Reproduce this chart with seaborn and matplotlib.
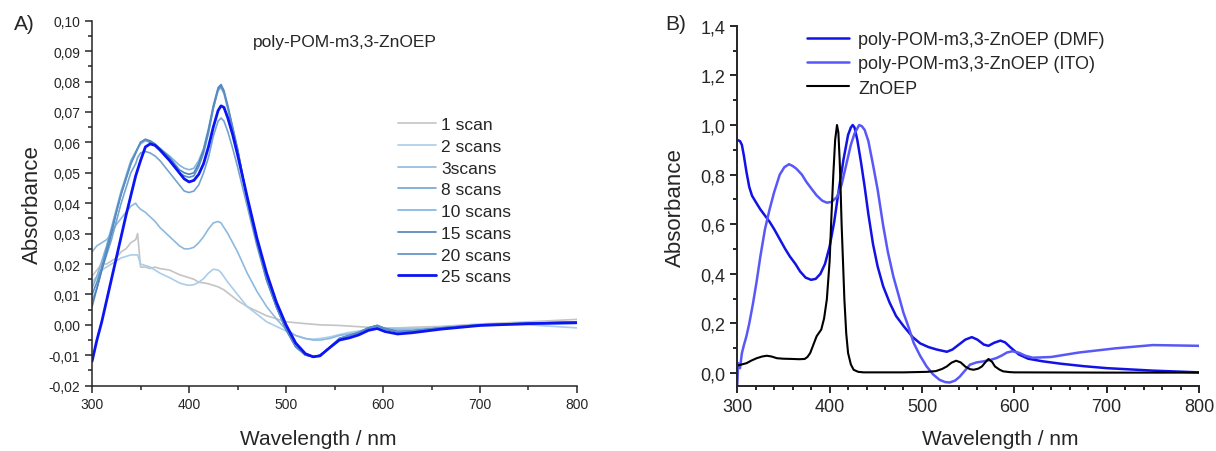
import matplotlib
matplotlib.use("Agg")
import matplotlib.pyplot as plt
import seaborn as sns
from matplotlib.ticker import MultipleLocator, FuncFormatter

# panel A - spectra after repeated scans
wl_a = [300, 305, 310, 315, 320, 325, 330, 335, 340, 345,
        347, 350, 355, 360, 365, 370, 380, 390, 395, 400,
        405, 410, 415, 420, 425, 430, 433, 436, 440, 445,
        450, 460, 470, 480, 490, 500, 510, 520, 528, 535,
        545, 555, 565, 575, 585, 594, 602, 615, 630, 660,
        700, 750, 800]
scan1 = [0.016, 0.018, 0.020, 0.020, 0.021, 0.022, 0.024, 0.025, 0.027, 0.028,
         0.030, 0.019, 0.019, 0.0185, 0.019, 0.0185, 0.018, 0.0165, 0.016, 0.0155,
         0.015, 0.014, 0.0138, 0.0135, 0.013, 0.0125, 0.012, 0.0115, 0.0105, 0.0093,
         0.008, 0.006, 0.0045, 0.003, 0.002, 0.001, 0.0007, 0.0004, 0.0002, 0.0,
         -0.0001, -0.0002, -0.0004, -0.0006, -0.0008, -0.001, -0.001, -0.001, -0.0008, -0.0005,
         0.0003, 0.001, 0.0018]
scan2 = [0.014, 0.016, 0.018, 0.019, 0.020, 0.021, 0.022, 0.0225, 0.023, 0.023,
         0.023, 0.020, 0.0195, 0.019, 0.018, 0.017, 0.0155, 0.0138, 0.0133, 0.013,
         0.0132, 0.014, 0.0152, 0.017, 0.0183, 0.018, 0.0172, 0.0158, 0.014, 0.012,
         0.010, 0.006, 0.0035, 0.001, -0.0005, -0.002, -0.0035, -0.0045, -0.0047, -0.0045,
         -0.004, -0.0032, -0.0025, -0.002, -0.0015, -0.001, -0.0012, -0.0012, -0.0012, -0.0008,
         0.0, 0.0, -0.001]
scan3 = [0.024, 0.026, 0.027, 0.028, 0.030, 0.033, 0.035, 0.037, 0.039, 0.040,
         0.039, 0.038, 0.037, 0.0355, 0.034, 0.032, 0.029, 0.026, 0.025, 0.025,
         0.0255, 0.027, 0.029, 0.0315, 0.0335, 0.034, 0.0335, 0.032, 0.030, 0.027,
         0.024, 0.017, 0.011, 0.006, 0.002, -0.0015, -0.0035, -0.0045, -0.005, -0.005,
         -0.0045, -0.0035, -0.003, -0.0025, -0.0012, -0.0005, -0.0012, -0.0015, -0.0015, -0.001,
         0.0, 0.0003, 0.0005]
scan8 = [0.008, 0.012, 0.018, 0.023, 0.028, 0.034, 0.040, 0.045, 0.050, 0.053,
         0.055, 0.0565, 0.057, 0.0565, 0.0555, 0.054, 0.050, 0.046, 0.044, 0.0435,
         0.044, 0.046, 0.050, 0.055, 0.062, 0.067, 0.068, 0.067, 0.0635, 0.058,
         0.052, 0.039, 0.026, 0.0145, 0.006, -0.0015, -0.0072, -0.0099, -0.0105, -0.0100,
         -0.0075, -0.0045, -0.0035, -0.0025, -0.001, -0.0003, -0.0015, -0.0022, -0.002, -0.001,
         0.0, 0.0005, 0.0008]
scan10 = [0.012, 0.016, 0.021, 0.026, 0.032, 0.038, 0.044, 0.049, 0.054, 0.057,
          0.058, 0.0595, 0.0605, 0.060, 0.059, 0.058, 0.0555, 0.0525, 0.0515, 0.051,
          0.0515, 0.054, 0.058, 0.0645, 0.0715, 0.077, 0.078, 0.076, 0.071, 0.064,
          0.0575, 0.0415, 0.027, 0.015, 0.006, -0.0015, -0.0072, -0.0099, -0.0105, -0.0100,
          -0.0075, -0.0045, -0.0035, -0.0025, -0.001, -0.0002, -0.0012, -0.0022, -0.002, -0.001,
          0.0, 0.0005, 0.001]
scan15 = [0.006, 0.012, 0.018, 0.024, 0.030, 0.037, 0.043, 0.048, 0.053, 0.0565,
          0.058, 0.060, 0.061, 0.0605, 0.0595, 0.058, 0.055, 0.051, 0.050, 0.0495,
          0.050, 0.053, 0.0575, 0.064, 0.072, 0.078, 0.079, 0.077, 0.072, 0.065,
          0.058, 0.041, 0.027, 0.015, 0.006, -0.0015, -0.0072, -0.0099, -0.0105, -0.0100,
          -0.0075, -0.0045, -0.0035, -0.0025, -0.001, -0.0002, -0.0012, -0.0022, -0.002, -0.001,
          0.0, 0.0005, 0.001]
scan20 = [0.010, 0.014, 0.019, 0.025, 0.031, 0.037, 0.043, 0.048, 0.053, 0.0565,
          0.058, 0.060, 0.061, 0.060, 0.059, 0.0575, 0.0545, 0.050, 0.049, 0.0485,
          0.049, 0.052, 0.0565, 0.063, 0.071, 0.0775, 0.0785, 0.0765, 0.0715, 0.0645,
          0.0575, 0.0415, 0.027, 0.015, 0.006, -0.0015, -0.0072, -0.0099, -0.0105, -0.0100,
          -0.0075, -0.0045, -0.0035, -0.0025, -0.001, -0.0002, -0.0012, -0.0022, -0.002, -0.001,
          0.0, 0.0005, 0.001]
scan25 = [-0.012, -0.005, 0.001, 0.008, 0.015, 0.022, 0.029, 0.036, 0.0425, 0.049,
          0.051, 0.054, 0.0585, 0.0595, 0.059, 0.0575, 0.054, 0.050, 0.048, 0.047,
          0.0475, 0.0495, 0.053, 0.0585, 0.065, 0.0705, 0.072, 0.0715, 0.068, 0.0625,
          0.056, 0.042, 0.0285, 0.017, 0.0075, 0.0, -0.006, -0.0095, -0.0105, -0.0102,
          -0.0075, -0.005, -0.0043, -0.0033, -0.0018, -0.0012, -0.0022, -0.003, -0.0026, -0.0014,
          -0.0002, 0.0004, 0.0007]
scan_labels = ["1 scan", "2 scans", "3scans", "8 scans", "10 scans", "15 scans", "20 scans", "25 scans"]

# panel B - normalised spectra
dmf_wl = [300, 303, 305, 307, 310, 313, 316, 320, 325, 330, 335, 340, 346, 352, 357, 363, 368, 374,
          380, 385, 390, 395, 400, 405, 410, 415, 420, 423, 425, 427, 430, 434, 438, 442, 447, 452,
          458, 465, 472, 480, 490, 498, 507, 516, 527, 533, 540, 547, 554, 560, 567, 572, 578, 585,
          590, 597, 605, 615, 630, 650, 675, 700, 750, 800]
dmf_abs = [0.94, 0.935, 0.92, 0.88, 0.81, 0.75, 0.715, 0.69, 0.66, 0.635, 0.61, 0.58, 0.54, 0.50, 0.47,
           0.44, 0.41, 0.385, 0.376, 0.38, 0.40, 0.44, 0.51, 0.61, 0.74, 0.86, 0.96, 0.99, 1.0, 0.99,
           0.94, 0.85, 0.75, 0.64, 0.52, 0.43, 0.35, 0.284, 0.23, 0.19, 0.145, 0.12, 0.105, 0.095,
           0.086, 0.095, 0.115, 0.135, 0.145, 0.135, 0.115, 0.11, 0.122, 0.131, 0.124, 0.10, 0.075,
           0.058, 0.048, 0.038, 0.028, 0.02, 0.01, 0.003]
ito_wl = [300, 301, 303, 305, 307, 310, 313, 317, 321, 325, 330, 335, 340, 346, 351, 356, 360, 364,
          370, 375, 380, 386, 392, 397, 402, 408, 413, 418, 423, 427, 432, 435, 438, 442, 447, 452,
          458, 463, 469, 475, 480, 486, 491, 498, 505, 512, 519, 525, 530, 536, 541, 547, 552, 559,
          566, 574, 581, 587, 592, 598, 605, 612, 620, 640, 670, 710, 750, 800]
ito_abs = [-0.05, 0.04, 0.02, 0.08, 0.11, 0.15, 0.20, 0.28, 0.37, 0.47, 0.58, 0.66, 0.73, 0.80, 0.83,
           0.842, 0.835, 0.824, 0.80, 0.77, 0.745, 0.716, 0.695, 0.687, 0.69, 0.71, 0.76, 0.84, 0.92,
           0.966, 1.0, 0.995, 0.98, 0.935, 0.84, 0.74, 0.595, 0.49, 0.39, 0.31, 0.243, 0.18, 0.122,
           0.07, 0.027, -0.005, -0.027, -0.036, -0.038, -0.03, -0.014, 0.012, 0.034, 0.043, 0.047,
           0.053, 0.061, 0.072, 0.083, 0.088, 0.082, 0.07, 0.062, 0.065, 0.083, 0.10, 0.113, 0.11]
zn_wl = [300, 305, 310, 315, 321, 327, 332, 337, 343, 350, 360, 367, 373, 376, 379, 383, 386, 389,
         391, 394, 397, 400, 402, 404, 406, 408, 409.5, 411, 412, 413, 414.5, 416, 418, 420, 423,
         426, 431, 437, 480, 505, 515, 522, 527, 532, 537, 542, 547, 552, 556, 561, 565, 569, 572,
         576, 579, 584, 588, 595, 600, 700, 800]
zn_abs = [0.03, 0.035, 0.04, 0.05, 0.06, 0.067, 0.07, 0.067, 0.06, 0.058, 0.057, 0.056, 0.057, 0.065,
          0.081, 0.12, 0.149, 0.165, 0.176, 0.22, 0.297, 0.45, 0.635, 0.80, 0.94, 1.0, 0.97, 0.85,
          0.73, 0.6, 0.45, 0.297, 0.16, 0.081, 0.035, 0.0135, 0.005, 0.003, 0.003, 0.005, 0.008,
          0.017, 0.027, 0.042, 0.05, 0.043, 0.026, 0.016, 0.0135, 0.018, 0.027, 0.045, 0.057, 0.045,
          0.027, 0.014, 0.007, 0.004, 0.003, 0.002, 0.002]

sns.set_style("ticks")
plt.rcParams['font.family'] = ['Liberation Sans', 'DejaVu Sans']
plt.rcParams['axes.linewidth'] = 1.1


def comma_fmt(decimals):
    def f(v, pos):
        v = round(v, decimals)
        if v == 0:
            v = 0.0
        return f"{v:.{decimals}f}".replace(".", ",")
    return FuncFormatter(f)


fig = plt.figure(figsize=(12.16, 4.52), dpi=100)
ax1 = fig.add_axes([0.0757, 0.1445, 0.3988, 0.8075])
ax2 = fig.add_axes([0.6063, 0.1427, 0.3797, 0.798])

# --- panel A
scan_data = [scan1, scan2, scan3, scan8, scan10, scan15, scan20, scan25]
scan_colors = ["#c4c4c4", "#a9cdea", "#8db9de", "#73a3cf", "#82b4de", "#4c82ba", "#5a8ec4", "#0a14f5"]
scan_lw = [1.2, 1.2, 1.2, 1.2, 1.2, 1.2, 1.2, 2.0]
for vals, c, lw, lab in zip(scan_data, scan_colors, scan_lw, scan_labels):
    sns.lineplot(x=wl_a, y=vals, ax=ax1, color=c, linewidth=lw, label=lab, sort=False)

ax1.set_xlim(300, 800)
ax1.set_ylim(-0.02, 0.10)
ax1.xaxis.set_major_locator(MultipleLocator(100))
ax1.xaxis.set_minor_locator(MultipleLocator(50))
ax1.yaxis.set_major_locator(MultipleLocator(0.01))
ax1.yaxis.set_minor_locator(MultipleLocator(0.005))
ax1.yaxis.set_major_formatter(comma_fmt(2))
ax1.tick_params(axis="both", which="major", labelsize=10, length=5, width=1.1, direction="out")
ax1.tick_params(axis="both", which="minor", length=3, width=1.1, direction="out")
ax1.set_xlabel("Wavelength / nm", fontsize=15)
ax1.xaxis.set_label_coords(0.466, -0.118)
ax1.set_ylabel("Absorbance", fontsize=16, labelpad=4)
ax1.legend(loc="upper left", bbox_to_anchor=(398 / 1216, 1 - 118 / 452), bbox_transform=fig.transFigure,
           frameon=False, fontsize=12.5, handlelength=2.2, handletextpad=0.3, labelspacing=0.38,
           borderpad=0, borderaxespad=0)
sns.despine(ax=ax1)
fig.text(345 / 1216, 1 - 42 / 452, "poly-POM-m3,3-ZnOEP", fontsize=12.5, ha="center", va="center")
fig.text(24 / 1216, 1 - 24 / 452, "A)", fontsize=15, ha="center", va="center")

# --- panel B
sns.lineplot(x=dmf_wl, y=dmf_abs, ax=ax2, color="#1212e6", linewidth=1.8,
             label="poly-POM-m3,3-ZnOEP (DMF)", sort=False)
sns.lineplot(x=ito_wl, y=ito_abs, ax=ax2, color="#5858f8", linewidth=1.8,
             label="poly-POM-m3,3-ZnOEP (ITO)", sort=False)
sns.lineplot(x=zn_wl, y=zn_abs, ax=ax2, color="black", linewidth=1.5, label="ZnOEP", sort=False)

ax2.set_xlim(300, 800)
ax2.set_ylim(-0.054, 1.4)
ax2.xaxis.set_major_locator(MultipleLocator(100))
ax2.xaxis.set_minor_locator(MultipleLocator(20))
ax2.yaxis.set_major_locator(MultipleLocator(0.2))
ax2.yaxis.set_minor_locator(MultipleLocator(0.1))
ax2.yaxis.set_major_formatter(comma_fmt(1))
ax2.tick_params(axis="both", which="major", labelsize=13, length=5, width=1.4, direction="out")
ax2.tick_params(axis="both", which="minor", length=3, width=1.4, direction="out")
for s in ax2.spines.values():
    s.set_linewidth(1.4)
ax2.set_xlabel("Wavelength / nm", fontsize=15)
ax2.xaxis.set_label_coords(0.569, -0.118)
ax2.set_ylabel("Absorbance", fontsize=16, labelpad=10)
ax2.legend(loc="upper left", bbox_to_anchor=(807 / 1216, 1 - 32 / 452), bbox_transform=fig.transFigure,
           frameon=False, fontsize=13, handlelength=2.3, handletextpad=0.55, labelspacing=0.41,
           borderpad=0, borderaxespad=0)
sns.despine(ax=ax2)
fig.text(676 / 1216, 1 - 25 / 452, "B)", fontsize=15, ha="center", va="center")

fig.savefig("out.png", dpi=100)
